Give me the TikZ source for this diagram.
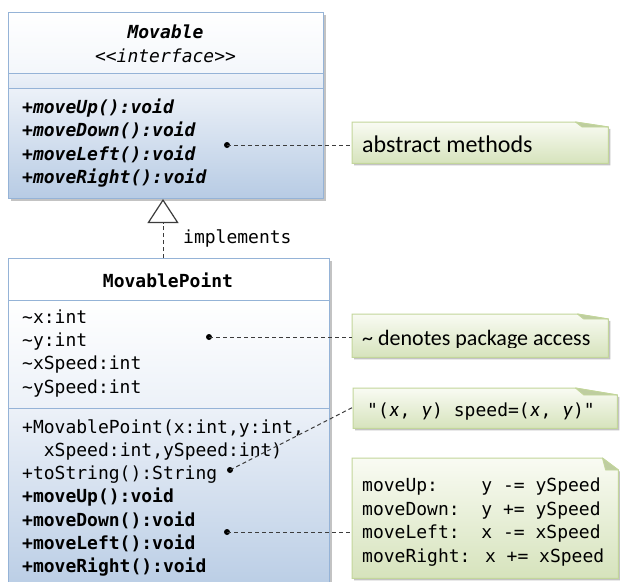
\documentclass[tikz,border=0pt]{standalone}
\usepackage{fontspec}
\newfontfamily\codefont{DejaVu Sans Mono}[Ligatures=TeXOff]
\newfontfamily\notefont{Carlito}
\usetikzlibrary{arrows.meta,shadows}
\definecolor{clsborder}{RGB}{149,179,215}
\definecolor{clswhite}{RGB}{255,255,255}
\definecolor{clslight}{RGB}{236,241,248}
\definecolor{clsmid}{RGB}{226,234,245}
\definecolor{clsbot}{RGB}{183,203,228}
\definecolor{noteborder}{RGB}{195,214,155}
\definecolor{notetop}{RGB}{249,251,243}
\definecolor{notebot}{RGB}{214,227,188}
\definecolor{foldcol}{RGB}{190,205,160}
\definecolor{linecol}{RGB}{60,60,60}
\definecolor{shadowcol}{RGB}{195,195,195}
\newcommand\drawnote[3]{%
  \fill[shadowcol] ([xshift=2pt,yshift=-2pt]#1.south west) -- ([xshift=2pt,yshift=-2pt]#1.north west) -- ([xshift=2pt-#2,yshift=-2pt]#1.north east) -- ([xshift=2pt,yshift=-2pt-#3]#1.north east) -- ([xshift=2pt,yshift=-2pt]#1.south east) -- cycle;
  \shade[top color=notetop,bottom color=notebot,draw=noteborder,line width=1pt] (#1.south west) -- (#1.north west) -- ([xshift=-#2]#1.north east) -- ([yshift=-#3]#1.north east) -- (#1.south east) -- cycle;
  \filldraw[fill=foldcol,draw=noteborder,line width=0.8pt,line join=round] ([xshift=-#2]#1.north east) -- ([yshift=-#3]#1.north east) -- ([xshift=-0.8*#2,yshift=-#3]#1.north east) -- cycle;
}
\begin{document}
\begin{tikzpicture}[x=1pt,y=-1pt,
  clspart/.style={draw=clsborder,line width=1pt,rectangle,inner sep=0pt,anchor=north west,
    drop shadow={shadow xshift=2pt,shadow yshift=-2pt,fill=shadowcol,opacity=1}},
  notebox/.style={rectangle,inner sep=0pt,anchor=north west},
  code/.style={font=\codefont\fontsize{18}{22}\selectfont,inner sep=0pt,anchor=base west},
  codeb/.style={code,font=\codefont\bfseries\fontsize{18}{22}\selectfont},
  codebi/.style={code,font=\codefont\bfseries\itshape\fontsize{18}{22}\selectfont},
  codei/.style={code,font=\codefont\itshape\fontsize{18}{22}\selectfont},
  notetext/.style={font=\notefont\fontsize{22}{26}\selectfont,inner sep=0pt,anchor=base west},
  dotst/.style={circle,fill=black,inner sep=0pt,minimum size=6pt},
  conn/.style={draw=linecol,line width=1pt,dash pattern=on 4pt off 3pt}]
\useasboundingbox (0,0) rectangle (620,581);
\fill[white] (0,0) rectangle (620,581);

% ---- Movable interface ----
\node[clspart,top color=clswhite,bottom color=clslight!60,minimum width=315,minimum height=61] (mvHead) at (8,12) {};
\node[clspart,top color=clslight,bottom color=clsmid,minimum width=315,minimum height=15] (mvAttr) at (8,73) {};
\node[clspart,top color=clslight,bottom color=clsbot,minimum width=315,minimum height=110] (mvOps) at (8,88) {};
\node[codebi,anchor=base] (mvName) at (165.5,38) {Movable};
\node[codei,anchor=base] (mvStereo) at (165.5,62) {<\kern0pt<interface>\kern0pt>};
\foreach \t [count=\i] in {+moveUp():void,+moveDown():void,+moveLeft():void,+moveRight():void}
  \node[codebi] (mvOp\i) at (22,{113.5+23.3*(\i-1)}) {\t};

% ---- MovablePoint class ----
\node[clspart,fill=white,minimum width=321,minimum height=42] (mpHead) at (8,258) {};
\node[clspart,top color=clswhite,bottom color=clslight,minimum width=321,minimum height=108] (mpAttr) at (8,300) {};
\node[clspart,top color=clslight,bottom color=clsbot,minimum width=321,minimum height=190] (mpOps) at (8,408) {};
\node[codeb,anchor=base] (mpName) at (168,287) {MovablePoint};
\foreach \t [count=\i] in {x:int,y:int,xSpeed:int,ySpeed:int}
  \node[code] (mpAt\i) at (22,{323.3+23.3*(\i-1)}) {\textasciitilde\t};
\node[code] (mpM1) at (22,433.3) {+MovablePoint(x:int,y:int,};
\node[code] (mpM2) at (43.7,456.5) {xSpeed:int,ySpeed:int)};
\node[code] (mpM3) at (22,479.7) {+toString():String};
\foreach \t [count=\i from 4] in {+moveUp():void,+moveDown():void,+moveLeft():void,+moveRight():void}
  \node[codeb] (mpM\i) at (22,{502.9+23.3*(\i-4)}) {\t};

% ---- implements ----
\coordinate (implTop) at (163,258);
\draw[conn,-{Triangle[length=24pt,width=31pt,fill=white,line width=1.2pt]}] (implTop) -- (implTop |- mvOps.south);
\node[code] (implLbl) at (183,243) {implements};

% ---- notes ----
\node[notebox,minimum width=256,minimum height=41] (nAbs) at (352,122) {};
\node[notebox,minimum width=256,minimum height=43] (nPkg) at (352,314) {};
\node[notebox,minimum width=264,minimum height=40] (nStr) at (353,388) {};
\node[notebox,minimum width=266,minimum height=120] (nCode) at (352,458) {};
\drawnote{nAbs}{33pt}{5pt}
\drawnote{nPkg}{31pt}{5pt}
\drawnote{nStr}{42pt}{7pt}
\drawnote{nCode}{16pt}{12pt}

\node[notetext,font=\notefont\fontsize{24}{28}\selectfont] (tAbs) at (362,152) {abstract methods};
\begin{scope}
  \clip (352,300) rectangle (608,347.5);
  \node[notetext] (tPkg) at (362,345) {\textasciitilde{} denotes package access};
\end{scope}
\node[code] (tStr) at (367,416.7) {"(\makebox[10.84pt]{\notefont\itshape\fontsize{21}{24}\selectfont x}, \makebox[10.84pt]{\notefont\itshape\fontsize{21}{24}\selectfont y}) speed=(\makebox[10.84pt]{\notefont\itshape\fontsize{21}{24}\selectfont x}, \makebox[10.84pt]{\notefont\itshape\fontsize{21}{24}\selectfont y})"};
\node[code] (tC1) at (362,491.7) {moveUp:\ \ \ \ y -= ySpeed};
\node[code] (tC2) at (362,515.2) {moveDown:\ \ y += ySpeed};
\node[code] (tC3) at (362,538.7) {moveLeft:\ \ x -= xSpeed};
\node[code] (tC4) at (362,562.2) {moveRight: x += xSpeed};

% ---- dots and connectors ----
\node[dotst] (d1) at (227,145) {};
\node[dotst] (d2) at (209,337) {};
\node[dotst] (d3) at (230,470) {};
\node[dotst] (d4) at (227,532) {};
\draw[conn] (d1.center) -- (d1.center -| nAbs.west);
\draw[conn] (d2.center) -- (d2.center -| nPkg.west);
\draw[conn] (d3.center) -- ([yshift=1pt]nStr.west);
\draw[conn] (d4.center) -- (d4.center -| nCode.west);
\end{tikzpicture}
\end{document}
